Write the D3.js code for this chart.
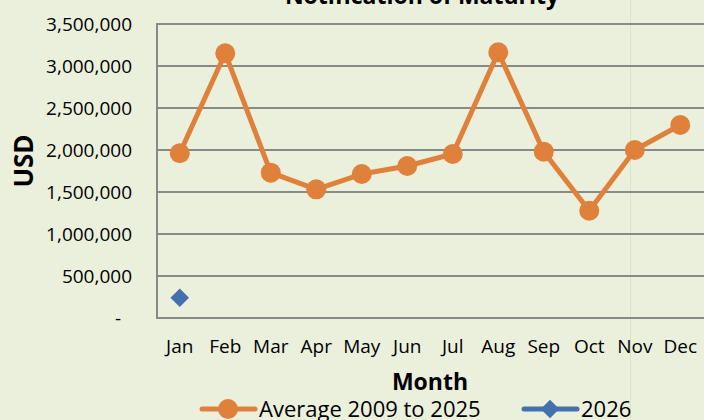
<!DOCTYPE html>
<html>
<head>
<meta charset="utf-8">
<script src="https://cdn.jsdelivr.net/npm/d3@7"></script>
<style>
  body { margin: 0; background: #ebf0dc; }
  svg { display: block; font-family: "Open Sans", "DejaVu Sans", sans-serif; }
</style>
</head>
<body>
<svg id="chart" width="704" height="420"></svg>
<script>
// data
var months = ["Jan", "Feb", "Mar", "Apr", "May", "Jun", "Jul", "Aug", "Sep", "Oct", "Nov", "Dec"];
var average = [1961000, 3151000, 1730000, 1532000, 1714000, 1810000, 1952000, 3163000, 1980000, 1277000, 2000000, 2298000];
var current = [242000];
var yTicks = [0, 500000, 1000000, 1500000, 2000000, 2500000, 3000000, 3500000];
var seriesNames = ["Average 2009 to 2025", "2026"];

var svg = d3.select("#chart");

var plot = { left: 157, top: 24, right: 703, bottom: 318 };

var x = d3.scaleBand().domain(months).range([plot.left, plot.right]);
var y = d3.scaleLinear().domain([0, 3500000]).range([plot.bottom, plot.top]);

var orange = "#df813b";
var blue = "#4271ad";
var grid = "#898989";

// faint sheet cell line seen behind the chart
svg.append("line")
    .attr("x1", 630.5).attr("x2", 630.5)
    .attr("y1", 0).attr("y2", 420)
    .attr("stroke", "#d9e6c2").attr("stroke-width", 1);

// gridlines
svg.append("g")
    .selectAll("line")
    .data(yTicks)
    .enter()
    .append("line")
        .attr("x1", plot.left).attr("x2", 704)
        .attr("y1", function(d) { return y(d); })
        .attr("y2", function(d) { return y(d); })
        .attr("stroke", grid).attr("stroke-width", 2);

// left axis line
svg.append("line")
    .attr("x1", plot.left).attr("x2", plot.left)
    .attr("y1", plot.top - 1).attr("y2", plot.bottom + 1)
    .attr("stroke", grid).attr("stroke-width", 2);

// y axis labels
var yAxis = svg.append("g")
    .attr("transform", "translate(" + (plot.left - 22) + ",0)")
    .call(d3.axisLeft(y).tickValues(yTicks).tickSize(0)
        .tickFormat(function(d) { return d === 0 ? "-" : d3.format(",")(d); }));
yAxis.select(".domain").remove();
yAxis.selectAll("text")
    .attr("font-size", 19)
    .attr("font-family", "Open Sans, sans-serif")
    .attr("fill", "#000")
    .attr("dx", function(d) { return d === 0 ? -11 : 0; });

// x axis labels
var xAxis = svg.append("g")
    .attr("transform", "translate(0," + (plot.bottom + 18) + ")")
    .call(d3.axisBottom(x).tickSize(0));
xAxis.select(".domain").remove();
xAxis.selectAll("text")
    .attr("font-size", 19)
    .attr("font-family", "Open Sans, sans-serif")
    .attr("fill", "#000");

// average line
var line = d3.line()
    .x(function(d, i) { return x(months[i]) + x.bandwidth() / 2; })
    .y(function(d) { return y(d); });

svg.append("path")
    .datum(average)
    .attr("d", line)
    .attr("fill", "none")
    .attr("stroke", orange)
    .attr("stroke-width", 5)
    .attr("stroke-linejoin", "round");

svg.append("g")
    .selectAll("circle")
    .data(average)
    .enter()
    .append("circle")
        .attr("cx", function(d, i) { return x(months[i]) + x.bandwidth() / 2; })
        .attr("cy", function(d) { return y(d); })
        .attr("r", 10)
        .attr("fill", orange);

// 2026 points
var diamond = d3.symbol().type(d3.symbolDiamond2).size(220);
svg.append("g")
    .selectAll("path")
    .data(current)
    .enter()
    .append("path")
        .attr("d", diamond)
        .attr("transform", function(d, i) {
            return "translate(" + (x(months[i]) + x.bandwidth() / 2) + "," + y(d) + ")";
        })
        .attr("fill", blue);

// title (clipped at the top like the reference)
svg.append("text")
    .attr("x", 422).attr("y", 4)
    .attr("text-anchor", "middle")
    .attr("font-size", 23).attr("font-weight", "bold")
    .text("Notification of Maturity");

// axis titles
svg.append("text")
    .attr("transform", "translate(33,161) rotate(-90)")
    .attr("text-anchor", "middle")
    .attr("font-size", 26).attr("font-weight", "bold")
    .text("USD");

svg.append("text")
    .attr("x", 430).attr("y", 390)
    .attr("text-anchor", "middle")
    .attr("font-size", 23).attr("font-weight", "bold")
    .text("Month");

// legend
var legend = svg.append("g").attr("transform", "translate(0,409)");
var legendItems = [
    { name: seriesNames[0], x: 200, color: orange, shape: "circle" },
    { name: seriesNames[1], x: 522, color: blue, shape: "diamond" }
];
legendItems.forEach(function(item) {
    var g = legend.append("g").attr("transform", "translate(" + item.x + ",0)");
    g.append("line")
        .attr("x1", 2).attr("x2", 55)
        .attr("stroke", item.color).attr("stroke-width", 5)
        .attr("stroke-linecap", "round");
    if (item.shape === "circle") {
        g.append("circle").attr("cx", 28).attr("r", 10).attr("fill", item.color);
    } else {
        g.append("path").attr("d", diamond).attr("transform", "translate(28,0)").attr("fill", item.color);
    }
    g.append("text")
        .attr("x", 59).attr("y", 0).attr("dy", "0.35em")
        .attr("font-size", 22)
        .text(item.name);
});
</script>
</body>
</html>
